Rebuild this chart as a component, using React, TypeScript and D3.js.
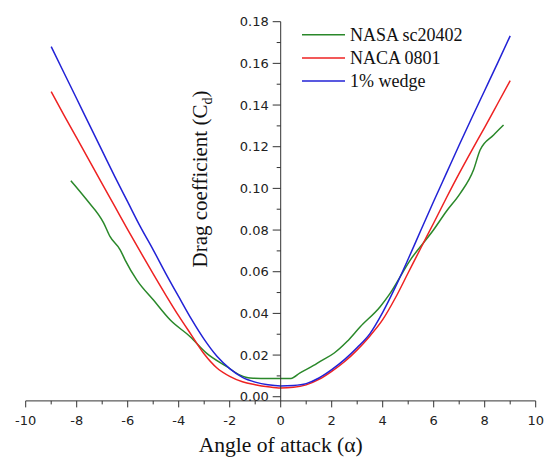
import React from "react";
import * as d3 from "d3";

const W = 544;
const H = 461;

// Angle of attack (deg) and drag coefficient for each airfoil
const wedgeAlpha = [-9, -8.5, -8, -7.5, -7, -6.5, -6, -5.5, -5, -4.5, -4, -3.5, -3, -2.5, -2, -1.5, -1, -0.5, 0, 0.5, 1, 1.5, 2, 2.5, 3, 3.5, 4, 4.5, 5, 5.5, 6, 6.5, 7, 7.5, 8, 8.5, 9];
const wedgeCd = [0.168, 0.1555, 0.143, 0.1305, 0.118, 0.1055, 0.0935, 0.0815, 0.0705, 0.059, 0.048, 0.0372, 0.0275, 0.0194, 0.0135, 0.0093, 0.007, 0.0057, 0.0052, 0.0054, 0.0063, 0.009, 0.013, 0.0178, 0.0236, 0.0303, 0.0405, 0.0527, 0.0661, 0.08, 0.0938, 0.1073, 0.1208, 0.134, 0.147, 0.16, 0.1732];

const nacaAlpha = [-9, -8.5, -8, -7.5, -7, -6.5, -6, -5.5, -5, -4.5, -4, -3.5, -3, -2.5, -2, -1.5, -1, -0.5, 0, 0.5, 1, 1.5, 2, 2.5, 3, 3.5, 4, 4.5, 5, 5.5, 6, 6.5, 7, 7.5, 8, 8.5, 9];
const nacaCd = [0.1464, 0.1352, 0.1242, 0.1132, 0.1022, 0.0912, 0.0802, 0.0695, 0.059, 0.0487, 0.0388, 0.0296, 0.0205, 0.0138, 0.0098, 0.0072, 0.0058, 0.0048, 0.0042, 0.0045, 0.0057, 0.0083, 0.0122, 0.0168, 0.0225, 0.0292, 0.037, 0.0475, 0.0595, 0.0715, 0.0834, 0.0955, 0.1072, 0.1184, 0.1293, 0.1405, 0.1517];

const nasaAlpha = [-8.23, -7.6, -6.95, -6.69, -6.29, -6.1, -5.64, -4.99, -4.33, -3.55, -2.9, -2.11, -1.59, -1.2, -0.5, 0.4, 0.76, 1.29, 1.55, 2.1, 2.6, 3.12, 3.9, 4.29, 5.08, 5.99, 6.5, 7.04, 7.56, 7.82, 8.35, 8.74];
const nasaCd = [0.1037, 0.0944, 0.0836, 0.0768, 0.0704, 0.0656, 0.056, 0.0464, 0.0368, 0.0288, 0.0208, 0.0144, 0.0104, 0.009, 0.0088, 0.0088, 0.0115, 0.015, 0.017, 0.021, 0.0265, 0.0336, 0.0432, 0.0496, 0.0656, 0.08, 0.089, 0.0976, 0.1088, 0.1184, 0.1256, 0.1304];

const seriesNames = ["NASA sc20402", "NACA 0801", "1% wedge"];
const seriesColors = ["#2a882a", "#ee2222", "#2222d6"];

const xTickValues = [-10, -8, -6, -4, -2, 0, 2, 4, 6, 8, 10];
const xMinorValues = [-9, -7, -5, -3, -1, 1, 3, 5, 7, 9];
const yTickValues = [0, 0.02, 0.04, 0.06, 0.08, 0.1, 0.12, 0.14, 0.16, 0.18];
const yMinorValues = [0.01, 0.03, 0.05, 0.07, 0.09, 0.11, 0.13, 0.15, 0.17];

export default function App() {
  const x = d3.scaleLinear().domain([-10, 10]).range([25.7, 535.7]);
  const y = d3.scaleLinear().domain([-0.002, 0.18]).range([400.9, 21.7]);
  const axisY = y(-0.002);
  const axisX = x(0);
  const axisColor = "#333";

  const line = d3
    .line<[number, number]>()
    .x((d) => x(d[0]))
    .y((d) => y(d[1]))
    .curve(d3.curveMonotoneX);

  const series = [
    nasaAlpha.map((a, i) => [a, nasaCd[i]] as [number, number]),
    nacaAlpha.map((a, i) => [a, nacaCd[i]] as [number, number]),
    wedgeAlpha.map((a, i) => [a, wedgeCd[i]] as [number, number]),
  ];

  const tickFont = "'DejaVu Sans', sans-serif";
  const titleFont = "'Liberation Serif', 'Times New Roman', serif";

  return (
    <svg
      width={W}
      height={H}
      style={{ position: "absolute", left: 0, top: 0, display: "block", background: "#fff" }}
    >
      {/* data lines */}
      {series.map((s, i) => (
        <path key={i} d={line(s) || ""} fill="none" stroke={seriesColors[i]} strokeWidth={1.5} />
      ))}

      {/* x axis */}
      <line x1={x(-10)} x2={x(10)} y1={axisY} y2={axisY} stroke={axisColor} strokeWidth={1} />
      {xTickValues.map((v) => (
        <g key={"xt" + v}>
          <line x1={x(v)} x2={x(v)} y1={axisY} y2={axisY + 6.5} stroke={axisColor} strokeWidth={1} />
          <text x={x(v)} y={425} textAnchor="middle" fontFamily={tickFont} fontSize={13} fill="#222">
            {String(v)}
          </text>
        </g>
      ))}
      {xMinorValues.map((v) => (
        <line key={"xm" + v} x1={x(v)} x2={x(v)} y1={axisY} y2={axisY + 3.5} stroke={axisColor} strokeWidth={1} />
      ))}

      {/* y axis */}
      <line x1={axisX} x2={axisX} y1={y(0.18)} y2={axisY} stroke={axisColor} strokeWidth={1} />
      {yTickValues.map((v) => (
        <g key={"yt" + v}>
          <line x1={axisX - 8} x2={axisX} y1={y(v)} y2={y(v)} stroke={axisColor} strokeWidth={1} />
          <text
            x={axisX - 12}
            y={y(v)}
            dy="0.36em"
            textAnchor="end"
            fontFamily={tickFont}
            fontSize={13}
            fill="#222"
          >
            {d3.format(".2f")(v)}
          </text>
        </g>
      ))}
      {yMinorValues.map((v) => (
        <line key={"ym" + v} x1={axisX - 4} x2={axisX} y1={y(v)} y2={y(v)} stroke={axisColor} strokeWidth={1} />
      ))}

      {/* axis titles */}
      <text
        transform={`translate(${x(0)},452) scale(1.08,1)`}
        textAnchor="middle"
        fontFamily={titleFont}
        fontSize={20}
        fill="#111"
      >
        Angle of attack (α)
      </text>
      <text
        transform={`translate(207,179) rotate(-90)`}
        textAnchor="middle"
        fontFamily={titleFont}
        fontSize={21}
        fill="#111"
      >
        Drag coefficient (C
        <tspan fontSize={14} dy={5}>d</tspan>
        <tspan dy={-5}>)</tspan>
      </text>

      {/* legend */}
      {seriesNames.map((name, i) => {
        const ly = 34.7 + i * 23.2;
        return (
          <g key={name}>
            <line x1={302} x2={345} y1={ly} y2={ly} stroke={seriesColors[i]} strokeWidth={1.5} />
            <text x={350} y={ly + 6} fontFamily={titleFont} fontSize={18} fill="#111">
              {name}
            </text>
          </g>
        );
      })}
    </svg>
  );
}
